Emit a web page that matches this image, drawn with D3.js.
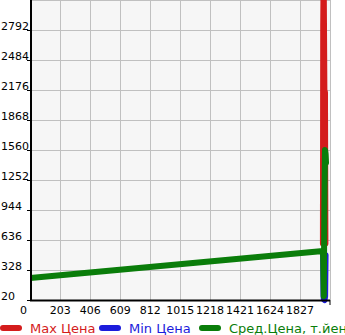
<!DOCTYPE html>
<html>
<head>
<meta charset="utf-8">
<script src="https://cdn.jsdelivr.net/npm/d3@7"></script>
<style>
  body { margin: 0; background: #fff; }
  svg { display: block; font-family: "DejaVu Sans", sans-serif; }
</style>
</head>
<body>
<div id="chart"></div>
<script>
// Tick labels
const xTicks = [0, 203, 406, 609, 812, 1015, 1218, 1421, 1624, 1827];
const yTicks = [20, 328, 636, 944, 1252, 1560, 1868, 2176, 2484, 2792];

// Series (x, value)
const maxX = [1982, 1984, 1987, 1992, 1996, 1999];
const maxY = [600, 2830, 3400, 2176, 2150, 600];
const minX = [1983, 1986, 1989, 1993, 1997, 2000];
const minY = [520, 60, 25, 20, 60, 480];
const avgX = [0, 1983, 1988, 1992, 1996, 2000, 2003];
const avgY = [246, 523, 60, 1000, 1560, 1520, 1430];

const series = [
  { name: "Max Цена", color: "#d41c1c", xs: maxX, ys: maxY },
  { name: "Min Цена", color: "#1c1cdc", xs: minX, ys: minY },
  { name: "Сред.Цена, т.йен", color: "#0a7d0a", xs: avgX, ys: avgY }
];

const width = 345, height = 335;
const pLeft = 30.3, pRight = 330, pTop = 0, pBottom = 300;

const svg = d3.select("#chart").append("svg")
  .attr("width", width)
  .attr("height", height);

const x = d3.scaleLinear().domain([0, 2030]).range([pLeft, pRight]);
const y = d3.scaleLinear().domain([20, 3100]).range([pBottom, pTop]);

svg.append("rect")
  .attr("x", pLeft).attr("y", pTop)
  .attr("width", pRight - pLeft).attr("height", pBottom - pTop)
  .attr("fill", "#f6f6f6");

// grid
svg.append("g").selectAll("line")
  .data(xTicks.slice(1).concat([2030]))
  .join("line")
  .attr("x1", d => Math.round(x(d)) + 0.5).attr("x2", d => Math.round(x(d)) + 0.5)
  .attr("y1", pTop).attr("y2", pBottom)
  .attr("stroke", "#c0c0c0").attr("stroke-width", 1);

svg.append("g").selectAll("line")
  .data(yTicks.slice(1).concat([3100]))
  .join("line")
  .attr("x1", pLeft).attr("x2", pRight)
  .attr("y1", d => Math.round(y(d)) + 0.5).attr("y2", d => Math.round(y(d)) + 0.5)
  .attr("stroke", "#c0c0c0").attr("stroke-width", 1);

// clip
svg.append("clipPath").attr("id", "clip")
  .append("rect").attr("x", pLeft).attr("y", pTop)
  .attr("width", pRight - pLeft + 4).attr("height", pBottom - pTop + 4);

const line = d3.line().x(d => x(d[0])).y(d => y(d[1]));

const plot = svg.append("g").attr("clip-path", "url(#clip)");
series.forEach(s => {
  plot.append("path")
    .datum(s.xs.map((v, i) => [v, s.ys[i]]))
    .attr("d", line)
    .attr("fill", "none")
    .attr("stroke", s.color)
    .attr("stroke-width", 6)
    .attr("stroke-linejoin", "round")
    .attr("stroke-linecap", "round");
});

// axes
svg.append("line")
  .attr("x1", 31).attr("x2", 31).attr("y1", 0).attr("y2", 301)
  .attr("stroke", "#000").attr("stroke-width", 2);
svg.append("line")
  .attr("x1", 30).attr("x2", pRight).attr("y1", 300.5).attr("y2", 300.5)
  .attr("stroke", "#000").attr("stroke-width", 2);
svg.append("line")
  .attr("x1", pRight).attr("x2", pRight).attr("y1", 300).attr("y2", 305)
  .attr("stroke", "#000").attr("stroke-width", 1);

// y tick labels
const yg = svg.append("g");
yg.selectAll("line")
  .data(yTicks)
  .join("line")
  .attr("x1", 27).attr("x2", 31)
  .attr("y1", d => Math.round(y(d)) + 0.5).attr("y2", d => Math.round(y(d)) + 0.5)
  .attr("stroke", "#000");
yg.selectAll("text")
  .data(yTicks)
  .join("text")
  .attr("x", 1)
  .attr("y", d => y(d))
  .attr("font-size", 11)
  .attr("fill", "#000")
  .text(d => d);

// x tick labels
svg.append("g").selectAll("text")
  .data(xTicks)
  .join("text")
  .attr("x", d => d === 0 ? 23.5 : x(d))
  .attr("y", 314)
  .attr("text-anchor", "middle")
  .attr("font-size", 11)
  .attr("fill", "#000")
  .text(d => d);

// legend
const legendX = [0, 99, 199];
const lg = svg.append("g");
series.forEach((s, i) => {
  lg.append("line")
    .attr("x1", legendX[i] + 3).attr("x2", legendX[i] + 19)
    .attr("y1", 328).attr("y2", 328)
    .attr("stroke", s.color).attr("stroke-width", 6)
    .attr("stroke-linecap", "round");
  lg.append("text")
    .attr("x", legendX[i] + 30).attr("y", 333)
    .attr("font-size", 13)
    .attr("fill", s.color)
    .text(s.name);
});
</script>
</body>
</html>
